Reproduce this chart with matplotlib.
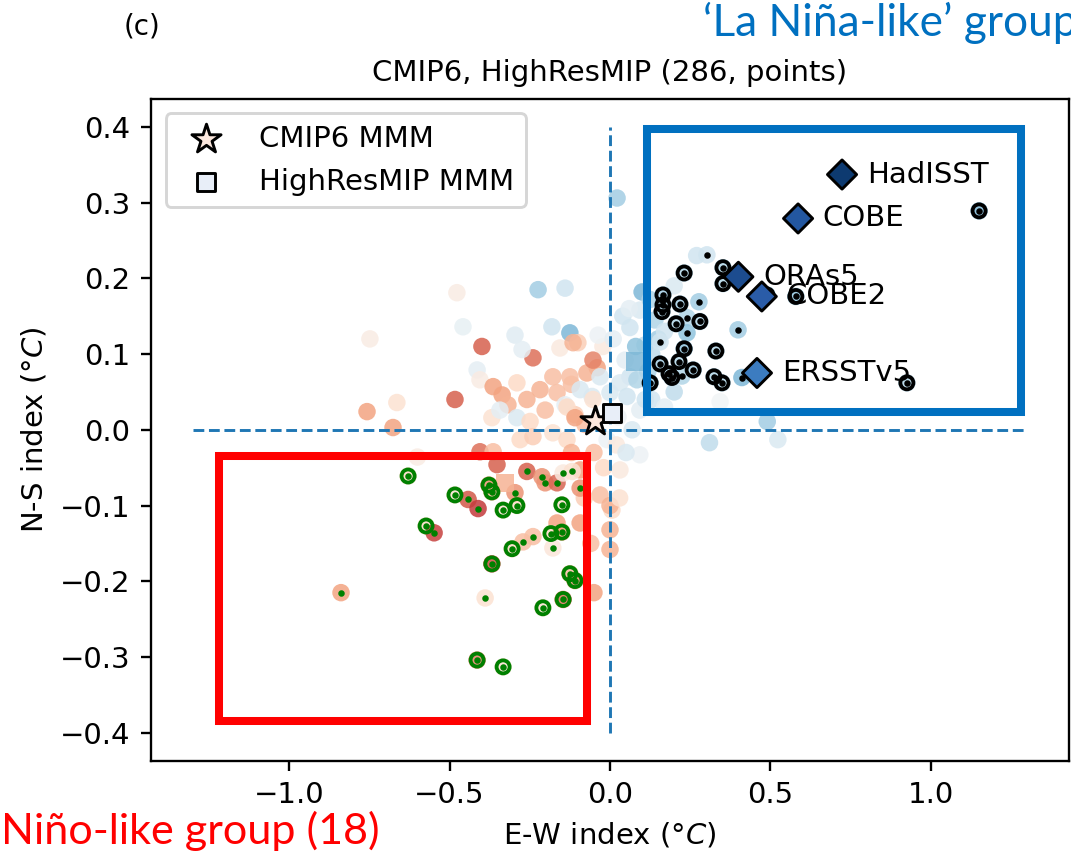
import numpy as np
import matplotlib.pyplot as plt
from matplotlib.patches import Rectangle

# models without a group mark: E-W index, N-S index, shading value (-1 red .. 1 blue)
ew_other = [-0.477, -0.458, -0.748, -0.399, -0.240, -0.224, -0.140, -0.125, -0.181, -0.296,
            -0.274, -0.414, -0.405, -0.364, -0.336, -0.318, -0.290, -0.259, -0.483, -0.757,
            -0.664, -0.368, -0.343, -0.290, -0.676, -0.100, -0.156, -0.040, -0.072, -0.178,
            -0.218, -0.165, -0.022, -0.037, -0.056, -0.202, -0.109, -0.249, -0.140, -0.078,
            0.022, 0.062, 0.100, 0.062, 0.031, 0.000, 0.084, 0.053, 0.069, 0.025,
            0.118, 0.109, 0.140, 0.093, 0.125, 0.047, -0.009, 0.093, 0.490, 0.523,
            0.343, 0.310, 0.031, 0.093, -0.031, 0.006, -0.600, -0.405, -0.364, -0.352,
            -0.050, -0.093, -0.165, -0.093, -0.280, -0.240, -0.178, -0.134, 0.000, 0.000,
            0.000, -0.120, -0.115, -0.053, -0.125, -0.093, -0.031, -0.053, -0.134, -0.109,
            0.150, 0.130, 0.170, 0.040, 0.010, 0.200, 0.080,
            -0.050, -0.020, 0.020, -0.080, 0.030, -0.120, -0.060, 0.050,
            0.130, 0.170, 0.200, 0.270, 0.060, 0.110]
ns_other = [0.181, 0.136, 0.120, 0.110, 0.095, 0.185, 0.187, 0.128, 0.136, 0.125,
            0.106, 0.079, 0.066, 0.057, 0.046, 0.033, 0.062, 0.040, 0.040, 0.024,
            0.036, 0.016, 0.026, 0.016, 0.003, 0.115, 0.108, 0.082, 0.075, 0.070,
            0.053, 0.049, 0.110, 0.125, 0.044, 0.026, 0.020, 0.011, 0.033, 0.007,
            0.306, 0.135, 0.182, 0.070, 0.062, 0.049, 0.066, 0.044, 0.000, 0.017,
            0.077, 0.112, 0.145, 0.158, 0.172, 0.092, -0.013, 0.026, 0.011, -0.013,
            0.037, -0.017, -0.053, -0.033, -0.086, -0.106, -0.036, -0.029, -0.029, -0.046,
            -0.215, -0.123, -0.123, -0.053, -0.013, -0.009, -0.004, -0.013, -0.100, -0.132,
            -0.158, 0.060, 0.115, 0.092, 0.070, 0.053, 0.070, 0.040, 0.030, 0.016,
            0.120, 0.040, 0.030, 0.150, 0.120, 0.050, 0.110,
            -0.030, -0.050, -0.020, -0.090, -0.090, -0.030, -0.150, -0.030,
            0.100, 0.130, 0.190, 0.230, 0.160, 0.040]
c_other = [-0.08, 0.08, -0.08, -0.6, -0.55, 0.35, 0.2, 0.45, 0.2, 0.12,
           0.1, 0.1, -0.08, -0.4, -0.4, -0.35, -0.2, -0.35, -0.6, -0.4,
           -0.15, -0.15, 0.1, 0.15, -0.4, -0.25, -0.1, -0.4, -0.35, -0.3,
           -0.35, -0.3, -0.1, 0.05, 0.15, -0.3, -0.25, -0.2, 0.1, -0.3,
           0.35, 0.2, 0.45, 0.2, 0.15, 0.15, 0.3, 0.2, 0.15, 0.05,
           0.3, 0.25, 0.3, 0.15, 0.3, 0.1, 0.05, 0.1, 0.35, 0.15,
           0.03, 0.25, -0.1, 0.05, -0.3, -0.2, -0.08, -0.55, -0.3, -0.6,
           -0.4, -0.4, -0.4, -0.4, -0.2, -0.25, -0.15, -0.2, -0.35, -0.35,
           -0.35, -0.3, -0.35, -0.5, -0.3, 0.15, 0.15, -0.15, -0.2, -0.4,
           0.35, 0.2, 0.1, 0.2, 0.1, 0.25, 0.4,
           -0.3, -0.2, -0.1, -0.25, -0.15, -0.35, -0.3, 0.15,
           0.25, 0.2, 0.15, 0.2, 0.1, 0.2]

# HighResMIP models (squares)
ew_hr = [0.078, -0.327]
ns_hr = [0.090, -0.070]
c_hr = [0.45, -0.35]

# 'La Nina-like' group, ringed models
ew_ln_ring = [1.150, 0.231, 0.352, 0.352, 0.165, 0.165, 0.162, 0.218, 0.280, 0.206, 0.231, 0.330,
              0.156, 0.215, 0.184, 0.259, 0.324, 0.349, 0.925, 0.579, 0.489, 0.125, 0.193]
ns_ln_ring = [0.289, 0.207, 0.214, 0.193, 0.178, 0.165, 0.156, 0.166, 0.143, 0.140, 0.107, 0.104,
              0.087, 0.090, 0.074, 0.079, 0.070, 0.062, 0.062, 0.176, 0.178, 0.062, 0.069]
c_ln_ring = [0.45, 0.3, 0.3, 0.3, 0.35, 0.3, 0.3, 0.35, 0.3, 0.3, 0.4, 0.3,
             0.35, 0.3, 0.3, 0.35, 0.3, 0.3, 0.3, 0.4, 0.4, 0.4, 0.3]
# 'La Nina-like' side, dotted models
ew_ln_dot = [0.302, 0.277, 0.240, 0.240, 0.156, 0.399, 0.411, 0.224]
ns_ln_dot = [0.231, 0.169, 0.148, 0.128, 0.116, 0.132, 0.069, 0.071]
c_ln_dot = [0.2, 0.35, 0.3, 0.4, 0.2, 0.35, 0.45, 0.3]

# 'El Nino-like' group (18), ringed models
ew_en_ring = [-0.629, -0.483, -0.573, -0.377, -0.368, -0.333, -0.290, -0.150, -0.184,
              -0.150, -0.305, -0.368, -0.125, -0.109, -0.209, -0.146, -0.414, -0.333]
ns_en_ring = [-0.061, -0.086, -0.127, -0.073, -0.082, -0.106, -0.100, -0.099, -0.137,
              -0.135, -0.157, -0.177, -0.190, -0.199, -0.235, -0.224, -0.304, -0.313]
c_en_ring = [-0.2, -0.15, -0.2, -0.45, -0.35, -0.15, -0.2, -0.15, -0.2,
             -0.4, -0.2, -0.65, -0.3, -0.45, -0.15, -0.55, -0.5, -0.15]
# 'El Nino-like' side, dotted models
ew_en_dot = [-0.838, -0.389, -0.442, -0.411, -0.548, -0.259, -0.212, -0.202,
             -0.165, -0.146, -0.118, -0.093, -0.296, -0.271, -0.240, -0.178]
ns_en_dot = [-0.215, -0.222, -0.092, -0.104, -0.136, -0.055, -0.062, -0.070,
             -0.070, -0.057, -0.055, -0.077, -0.083, -0.148, -0.141, -0.156]
c_en_dot = [-0.4, -0.15, -0.62, -0.7, -0.68, -0.6, -0.45, -0.45,
            -0.58, -0.1, -0.15, -0.45, -0.45, -0.3, -0.3, -0.12]

# observations
obs_names = ['HadISST', 'COBE', 'ORAs5', 'COBE2', 'ERSSTv5']
obs_ew = [0.723, 0.586, 0.400, 0.473, 0.458]
obs_ns = [0.337, 0.279, 0.202, 0.176, 0.075]
obs_colors = ['#0d3a70', '#2357a0', '#1c4c8f', '#2a5ca8', '#3c7cc0']

# multi-model means
mmm_cmip6 = (-0.047, 0.011)
mmm_hr = (0.006, 0.022)

fig = plt.figure(figsize=(1071 / 210, 856 / 210), dpi=210)
ax = fig.add_axes([0.141, 0.1112, 0.8571, 0.7734])

all_ew = ew_other + ew_ln_ring + ew_ln_dot + ew_en_ring + ew_en_dot
all_ns = ns_other + ns_ln_ring + ns_ln_dot + ns_en_ring + ns_en_dot
all_c = c_other + c_ln_ring + c_ln_dot + c_en_ring + c_en_dot
ax.scatter(all_ew, all_ns, c=all_c, cmap='RdBu', vmin=-1, vmax=1, s=36,
           alpha=0.85, edgecolors='none', zorder=2)
ax.scatter(ew_hr, ns_hr, c=c_hr, cmap='RdBu', vmin=-1, vmax=1, marker='s', s=40,
           alpha=0.85, edgecolors='none', zorder=2)

ax.hlines(0, -1.3, 1.3, colors='tab:blue', linestyles='--', lw=1, zorder=2.5)
ax.vlines(0, -0.4, 0.4, colors='tab:blue', linestyles='--', lw=1, zorder=2.5)

# group marks
ax.scatter(ew_ln_ring, ns_ln_ring, s=20, facecolors='none', edgecolors='k', linewidths=1.3, zorder=3)
ax.scatter(ew_ln_ring + ew_ln_dot, ns_ln_ring + ns_ln_dot, s=1.5, color='k', zorder=3)
ax.scatter(ew_en_ring, ns_en_ring, s=20, facecolors='none', edgecolors='green', linewidths=1.3, zorder=3)
ax.scatter(ew_en_ring + ew_en_dot, ns_en_ring + ns_en_dot, s=1.5, color='green', zorder=3)

ax.scatter(obs_ew, obs_ns, marker='D', s=50, c=obs_colors, edgecolors='k', linewidths=1, zorder=4)
for name, x, y in zip(obs_names, obs_ew, obs_ns):
    ax.text(x + 0.077, y, name, va='center', fontsize=10, zorder=4)

ax.scatter(*mmm_cmip6, marker='*', s=110, facecolor='#fce8de', edgecolor='k', linewidths=1,
           zorder=5, label='CMIP6 MMM')
ax.scatter(*mmm_hr, marker='s', s=40, facecolor='#e8eef8', edgecolor='k', linewidths=1,
           zorder=5, label='HighResMIP MMM')
ax.legend(loc='upper left')

ax.set_xlim(-1.43, 1.43)
ax.set_ylim(-0.437, 0.437)
ax.set_title('CMIP6, HighResMIP (286, points)', fontsize=10)
ax.set_xlabel('E-W index (°$C$)')
ax.set_ylabel('N-S index (°$C$)')

# group boxes drawn over the panel
ax.add_patch(Rectangle((0.115, 0.024), 1.165, 0.373, fill=False, ec='#0070c0', lw=2.75,
                       clip_on=False, zorder=10))
ax.add_patch(Rectangle((-1.217, -0.385), 1.145, 0.351, fill=False, ec='#ff0000', lw=2.75,
                       clip_on=False, zorder=10))

fig.text(703 / 1071, 1 - 36 / 856, '‘La Niña-like’ group', color='#0070c0', fontsize=15.2,
         family='Lato', va='baseline')
fig.text(0.001, 12 / 856, 'Niño-like group (18)', color='red', fontsize=14.8,
         family='Lato', va='baseline')
fig.text(0.115, 1 - 27 / 856, '(c)', fontsize=9.5, va='center')

fig.savefig('out.png', dpi=210)
